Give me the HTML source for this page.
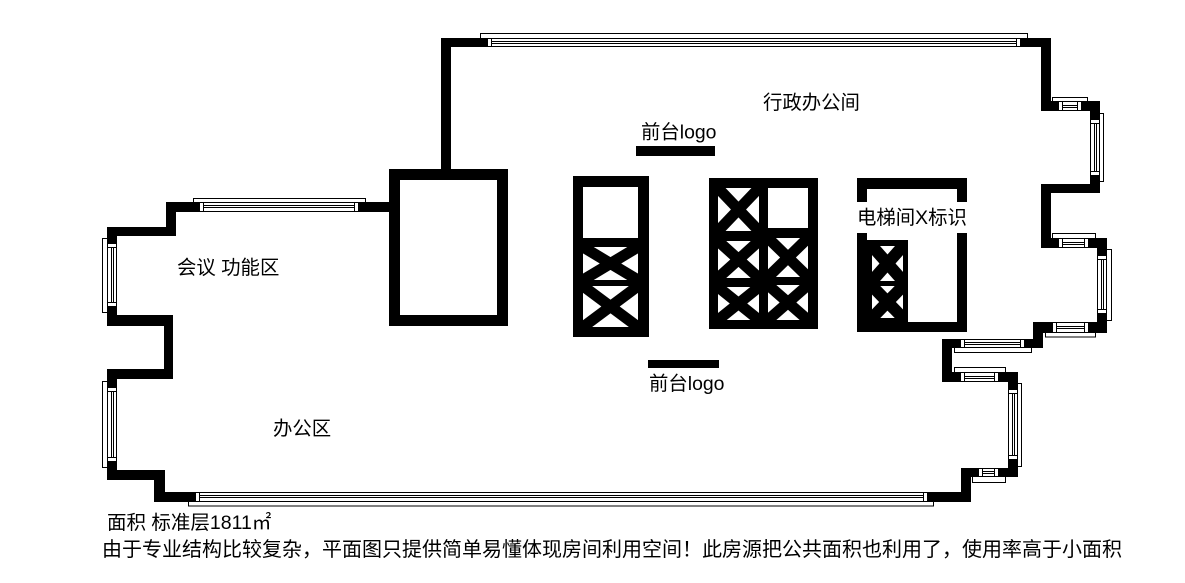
<!DOCTYPE html>
<html>
<head>
<meta charset="utf-8">
<style>
html,body{margin:0;padding:0;background:#fff;}
svg{display:block;}
text{font-family:"Liberation Sans","Noto Sans CJK SC",sans-serif;fill:#000;}
</style>
</head>
<body>
<svg width="1185" height="583" viewBox="0 0 1185 583" xmlns="http://www.w3.org/2000/svg">
<rect x="0" y="0" width="1185" height="583" fill="#fff"/>

<!-- sills (outer frames) -->
<g fill="#fff" stroke="#000" stroke-width="1">
  <rect x="480.5" y="33.5" width="547" height="5"/>
  <rect x="1052.5" y="97.5" width="35" height="4"/>
  <rect x="1099.5" y="113.5" width="4" height="68"/>
  <rect x="1052.5" y="233.5" width="43" height="5"/>
  <rect x="1106.5" y="249.5" width="5" height="71"/>
  <rect x="1045.5" y="332.5" width="50" height="4.5"/>
  <rect x="954.5" y="347.5" width="77" height="5"/>
  <rect x="954.5" y="367.5" width="51" height="5"/>
  <rect x="1017.5" y="383.5" width="4" height="83"/>
  <rect x="972.5" y="476.5" width="33" height="6"/>
  <rect x="188.5" y="501.5" width="745" height="4.5"/>
  <rect x="102.5" y="381.5" width="5" height="86"/>
  <rect x="102.5" y="238.5" width="5" height="74"/>
  <rect x="193.5" y="198.5" width="172" height="4"/>
</g>

<!-- walls -->
<g fill="#000">
  <rect x="441" y="38" width="10" height="132"/>
  <rect x="441" y="38" width="610" height="9"/>
  <rect x="1041" y="38" width="10" height="73"/>
  <rect x="1041" y="101" width="59" height="10"/>
  <rect x="1090" y="101" width="10" height="92"/>
  <rect x="1041" y="184" width="59" height="9"/>
  <rect x="1041" y="184" width="10" height="64"/>
  <rect x="1041" y="238" width="66" height="10"/>
  <rect x="1097" y="238" width="10" height="95"/>
  <rect x="1033" y="322" width="74" height="11"/>
  <rect x="1033" y="322" width="10" height="26"/>
  <rect x="942" y="339" width="101" height="9"/>
  <rect x="942" y="339" width="10" height="43"/>
  <rect x="942" y="372" width="76" height="10"/>
  <rect x="1008" y="372" width="10" height="105"/>
  <rect x="961" y="468" width="57" height="9"/>
  <rect x="961" y="468" width="10" height="34"/>
  <rect x="154" y="492" width="817" height="10"/>
  <rect x="154" y="470" width="11" height="32"/>
  <rect x="107" y="470" width="58" height="10"/>
  <rect x="107" y="369" width="10" height="111"/>
  <rect x="107" y="369" width="66" height="10"/>
  <rect x="164" y="315" width="9" height="64"/>
  <rect x="107" y="315" width="66" height="11"/>
  <rect x="107" y="227" width="10" height="99"/>
  <rect x="107" y="227" width="69" height="9"/>
  <rect x="166" y="202" width="10" height="34"/>
  <rect x="166" y="202" width="223" height="10"/>
  <!-- core box -->
  <rect x="389" y="169" width="119" height="157"/>
</g>
<rect x="400" y="180" width="97" height="135" fill="#fff"/>

<!-- windows -->
<g fill="#fff" stroke="#000" stroke-width="1">
  <rect x="487.5" y="38.5" width="533" height="8"/>
  <line x1="487" y1="41.5" x2="1021" y2="41.5"/><line x1="487" y1="43.5" x2="1021" y2="43.5"/>
  <rect x="487.5" y="38.5" width="4" height="8"/><rect x="1016.5" y="38.5" width="4" height="8"/>
  <rect x="1058.5" y="101.5" width="23" height="9"/>
  <line x1="1058" y1="105.5" x2="1082" y2="105.5"/><line x1="1058" y1="107.5" x2="1082" y2="107.5"/>
  <rect x="1058.5" y="101.5" width="4" height="9"/><rect x="1077.5" y="101.5" width="4" height="9"/>
  <rect x="1090.5" y="119.5" width="9" height="56"/>
  <line x1="1094.5" y1="119" x2="1094.5" y2="176"/><line x1="1096.5" y1="119" x2="1096.5" y2="176"/>
  <rect x="1090.5" y="119.5" width="9" height="4"/><rect x="1090.5" y="171.5" width="9" height="4"/>
  <rect x="1058.5" y="238.5" width="30" height="9"/>
  <line x1="1058" y1="242.5" x2="1089" y2="242.5"/><line x1="1058" y1="244.5" x2="1089" y2="244.5"/>
  <rect x="1058.5" y="238.5" width="4" height="9"/><rect x="1084.5" y="238.5" width="4" height="9"/>
  <rect x="1097.5" y="255.5" width="9" height="58"/>
  <line x1="1101.5" y1="255" x2="1101.5" y2="314"/><line x1="1103.5" y1="255" x2="1103.5" y2="314"/>
  <rect x="1097.5" y="255.5" width="9" height="4"/><rect x="1097.5" y="309.5" width="9" height="4"/>
  <rect x="1052.5" y="322.5" width="36" height="10"/>
  <line x1="1052" y1="326.5" x2="1089" y2="326.5"/><line x1="1052" y1="328.5" x2="1089" y2="328.5"/>
  <rect x="1052.5" y="322.5" width="4" height="10"/><rect x="1084.5" y="322.5" width="4" height="10"/>
  <rect x="960.5" y="339.5" width="64" height="8"/>
  <line x1="960" y1="342.5" x2="1025" y2="342.5"/><line x1="960" y1="344.5" x2="1025" y2="344.5"/>
  <rect x="960.5" y="339.5" width="4" height="8"/><rect x="1020.5" y="339.5" width="4" height="8"/>
  <rect x="960.5" y="372.5" width="38" height="9"/>
  <line x1="960" y1="376.5" x2="999" y2="376.5"/><line x1="960" y1="378.5" x2="999" y2="378.5"/>
  <rect x="960.5" y="372.5" width="4" height="9"/><rect x="994.5" y="372.5" width="4" height="9"/>
  <rect x="1008.5" y="389.5" width="9" height="70"/>
  <line x1="1012.5" y1="389" x2="1012.5" y2="460"/><line x1="1014.5" y1="389" x2="1014.5" y2="460"/>
  <rect x="1008.5" y="389.5" width="9" height="4"/><rect x="1008.5" y="455.5" width="9" height="4"/>
  <rect x="978.5" y="468.5" width="20" height="8"/>
  <line x1="978" y1="471.5" x2="999" y2="471.5"/><line x1="978" y1="473.5" x2="999" y2="473.5"/>
  <rect x="978.5" y="468.5" width="4" height="8"/><rect x="994.5" y="468.5" width="4" height="8"/>
  <rect x="195.5" y="492.5" width="732" height="9"/>
  <line x1="195" y1="495.5" x2="928" y2="495.5"/><line x1="195" y1="497.5" x2="928" y2="497.5"/>
  <rect x="195.5" y="492.5" width="4" height="9"/><rect x="923.5" y="492.5" width="4" height="9"/>
  <rect x="107.5" y="387.5" width="9" height="74"/>
  <line x1="111.5" y1="387" x2="111.5" y2="462"/><line x1="113.5" y1="387" x2="113.5" y2="462"/>
  <rect x="107.5" y="387.5" width="9" height="4"/><rect x="107.5" y="457.5" width="9" height="4"/>
  <rect x="107.5" y="243.5" width="9" height="63"/>
  <line x1="111.5" y1="243" x2="111.5" y2="307"/><line x1="113.5" y1="243" x2="113.5" y2="307"/>
  <rect x="107.5" y="243.5" width="9" height="4"/><rect x="107.5" y="302.5" width="9" height="4"/>
  <rect x="199.5" y="202.5" width="159" height="9"/>
  <line x1="199" y1="205.5" x2="359" y2="205.5"/><line x1="199" y1="207.5" x2="359" y2="207.5"/>
  <rect x="199.5" y="202.5" width="4" height="9"/><rect x="354.5" y="202.5" width="4" height="9"/>
</g>

<!-- left elevator shaft -->
<rect x="573" y="176" width="76" height="161" fill="#000"/>
<rect x="583" y="187" width="55" height="51" fill="#fff"/>
<rect x="583" y="247" width="55" height="33" fill="#fff"/>
<rect x="583" y="286" width="55" height="41" fill="#fff"/>
<g stroke="#000" stroke-width="11">
  <line x1="583" y1="247" x2="638" y2="280"/><line x1="638" y1="247" x2="583" y2="280"/>
  <line x1="583" y1="286" x2="638" y2="327"/><line x1="638" y1="286" x2="583" y2="327"/>
</g>

<!-- middle elevator bank -->
<rect x="709" y="178" width="109" height="151" fill="#000"/>
<g fill="#fff">
  <rect x="718" y="188" width="41" height="43"/>
  <rect x="718" y="241" width="41" height="37"/>
  <rect x="718" y="287" width="41" height="33"/>
  <rect x="768" y="188" width="40" height="40"/>
  <rect x="768" y="238" width="40" height="39"/>
  <rect x="768" y="285" width="40" height="35"/>
</g>
<g stroke="#000" stroke-width="11">
  <line x1="718" y1="188" x2="759" y2="231"/><line x1="759" y1="188" x2="718" y2="231"/>
  <line x1="718" y1="241" x2="759" y2="278"/><line x1="759" y1="241" x2="718" y2="278"/>
  <line x1="718" y1="287" x2="759" y2="320"/><line x1="759" y1="287" x2="718" y2="320"/>
  <line x1="768" y1="238" x2="808" y2="277"/><line x1="808" y1="238" x2="768" y2="277"/>
  <line x1="768" y1="285" x2="808" y2="320"/><line x1="808" y1="285" x2="768" y2="320"/>
</g>

<!-- right elevator room -->
<rect x="857" y="178" width="110" height="154" fill="#000"/>
<rect x="867" y="189" width="90" height="133" fill="#fff"/>
<rect x="867" y="240" width="41" height="82" fill="#000"/>
<rect x="872" y="246" width="31" height="35" fill="#fff"/>
<rect x="872" y="286" width="31" height="32" fill="#fff"/>
<g stroke="#000" stroke-width="12">
  <line x1="872" y1="246" x2="903" y2="281"/><line x1="903" y1="246" x2="872" y2="281"/>
  <line x1="872" y1="286" x2="903" y2="318"/><line x1="903" y1="286" x2="872" y2="318"/>
</g>
<rect x="856" y="202" width="112" height="31" fill="#fff"/>

<!-- reception bars -->
<rect x="636" y="146" width="79" height="10" fill="#000"/>
<rect x="648" y="360" width="71" height="8" fill="#000"/>

<!-- labels -->
<g font-size="19.4">
  <text x="763" y="109">行政办公间</text>
  <text x="641" y="138.5">前台logo</text>
  <text x="649" y="390">前台logo</text>
  <text x="857" y="224">电梯间X标识</text>
  <text x="177" y="274">会议 功能区</text>
  <text x="273" y="435">办公区</text>
</g>
<text x="107" y="529" font-size="19.5">面积 标准层1811㎡</text>
<text x="102" y="556" font-size="20">由于专业结构比较复杂，平面图只提供简单易懂体现房间利用空间！此房源把公共面积也利用了，使用率高于小面积</text>
</svg>
</body>
</html>
